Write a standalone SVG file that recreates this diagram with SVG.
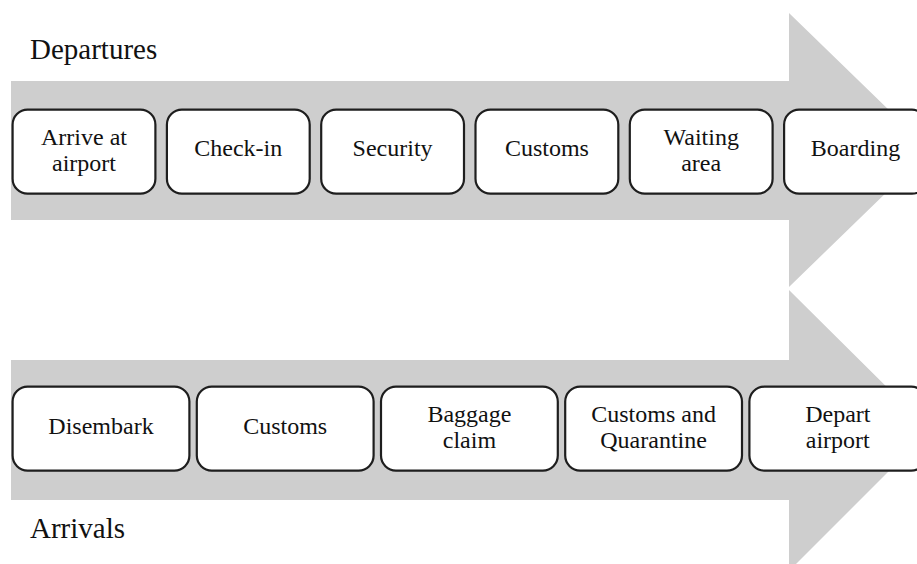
<svg xmlns="http://www.w3.org/2000/svg" width="917" height="564" viewBox="0 0 917 564">
  <style>
    .band { fill: #cecece; }
    .step rect { fill: #ffffff; stroke: #1e1e1e; stroke-width: 2.2; }
    .step text, .label { font-family: "Liberation Serif", "Times New Roman", serif; fill: #111111; }
    .step text { font-size: 24px; text-anchor: middle; }
    .label { font-size: 29px; }
  </style>
  <rect width="917" height="564" fill="#ffffff"/>

  <!-- flow arrows behind the steps -->
  <g id="connectors">
    <polygon id="departures-arrow" class="band" points="11,81 789,81 789,13 930,150 789,287 789,220 11,220"/>
    <polygon id="arrivals-arrow" class="band" points="11,360 789,360 789,290 930,430 789,571 789,500 11,500"/>
  </g>

  <text class="label" x="30" y="59">Departures</text>
  <text class="label" x="30" y="538">Arrivals</text>

  <!-- departure steps -->
  <g id="arrive-at-airport" class="step">
    <rect x="12.6" y="109.7" width="142.8" height="84" rx="15"/>
    <text x="84" y="145">Arrive at</text>
    <text x="84" y="171">airport</text>
  </g>
  <g id="check-in" class="step">
    <rect x="166.9" y="109.7" width="142.8" height="84" rx="15"/>
    <text x="238.3" y="156">Check-in</text>
  </g>
  <g id="security" class="step">
    <rect x="321.2" y="109.7" width="142.8" height="84" rx="15"/>
    <text x="392.6" y="156">Security</text>
  </g>
  <g id="customs-departures" class="step">
    <rect x="475.5" y="109.7" width="142.8" height="84" rx="15"/>
    <text x="546.9" y="156">Customs</text>
  </g>
  <g id="waiting-area" class="step">
    <rect x="629.8" y="109.7" width="142.8" height="84" rx="15"/>
    <text x="701.2" y="145">Waiting</text>
    <text x="701.2" y="171">area</text>
  </g>
  <g id="boarding" class="step">
    <rect x="784.1" y="109.7" width="142.8" height="84" rx="15"/>
    <text x="855.5" y="156">Boarding</text>
  </g>

  <!-- arrival steps -->
  <g id="disembark" class="step">
    <rect x="12.6" y="386.6" width="176.8" height="84" rx="15"/>
    <text x="101" y="433.5">Disembark</text>
  </g>
  <g id="customs-arrivals" class="step">
    <rect x="196.8" y="386.6" width="176.8" height="84" rx="15"/>
    <text x="285.2" y="433.5">Customs</text>
  </g>
  <g id="baggage-claim" class="step">
    <rect x="381" y="386.6" width="176.8" height="84" rx="15"/>
    <text x="469.4" y="421.5">Baggage</text>
    <text x="469.4" y="448">claim</text>
  </g>
  <g id="customs-and-quarantine" class="step">
    <rect x="565.2" y="386.6" width="176.8" height="84" rx="15"/>
    <text x="653.6" y="421.5">Customs and</text>
    <text x="653.6" y="448">Quarantine</text>
  </g>
  <g id="depart-airport" class="step">
    <rect x="749.4" y="386.6" width="176.8" height="84" rx="15"/>
    <text x="837.8" y="421.5">Depart</text>
    <text x="837.8" y="448">airport</text>
  </g>
</svg>
